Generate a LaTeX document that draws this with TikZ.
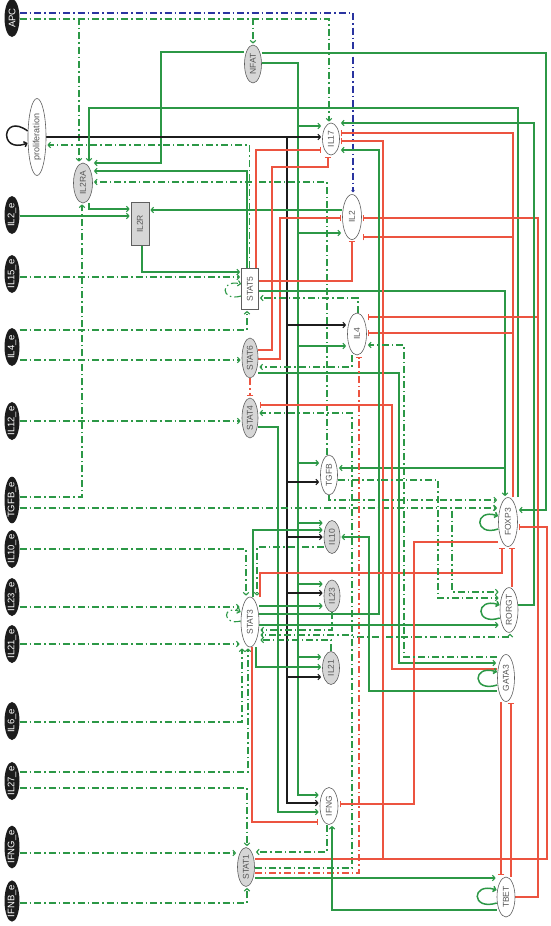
\documentclass[tikz,border=0pt]{standalone}
\usepackage{fontspec}
\setmainfont{Liberation Sans}
\usetikzlibrary{arrows.meta,shapes.geometric}
\definecolor{tg}{RGB}{44,152,70}
\definecolor{tr}{RGB}{236,84,64}
\definecolor{tb}{RGB}{42,52,160}
\definecolor{ng}{RGB}{214,214,214}
\definecolor{ne}{RGB}{95,95,95}
\definecolor{nt}{RGB}{85,85,85}
\definecolor{xb}{RGB}{28,28,28}
\pgfdeclarelayer{bg}
\pgfsetlayers{bg,main}
\tikzset{
  ext/.style={ellipse, fill=xb, text=white, minimum width=15pt, minimum height=38pt, inner sep=-1.5pt, font=\fontsize{9.5}{10}\selectfont},
  gnode/.style={ellipse, draw=ne, fill=ng, text=nt, line width=0.6pt, inner sep=0.5pt, font=\fontsize{8.5}{10}\selectfont},
  wnode/.style={gnode, fill=white},
  grect/.style={rectangle, draw=ne, fill=ng, text=nt, line width=0.6pt, inner sep=0.5pt, font=\fontsize{8.5}{10}\selectfont},
  wrect/.style={grect, fill=white},
  act/.style={draw=tg, line width=1.1pt, shorten >=1pt, -{Straight Barb[length=2.6pt,width=5.5pt]}},
  inh/.style={draw=tr, line width=1.1pt, shorten >=1.5pt, -{Bar[width=6.5pt,line width=1.1pt]}},
  ddash/.style={dash pattern=on 7pt off 3pt on 1.5pt off 3pt},
  dact/.style={act, ddash},
  dinh/.style={inh, ddash},
  bact/.style={draw=xb, line width=1.1pt, shorten >=1pt, -{Straight Barb[length=2.6pt,width=5.5pt]}},
  bdd/.style={draw=tb, line width=1.1pt, ddash, shorten >=2pt, -{Circle[length=3pt]}},
  loopg/.style={draw=tg, line width=1.5pt, -{Straight Barb[length=2.6pt,width=5.5pt]}},
}
\begin{document}
\begin{tikzpicture}[x=1pt,y=-1pt]
\path[use as bounding box] (0,0) rectangle (550,926);
% input nodes
\node[ext] (APC)    at (12,18)  {\rotatebox{90}{APC}};
\node[ext] (IL2e)   at (12,215) {\rotatebox{90}{IL2\_e}};
\node[ext] (IL15e)  at (12,274) {\rotatebox{90}{IL15\_e}};
\node[ext] (IL4e)   at (12,347) {\rotatebox{90}{IL4\_e}};
\node[ext] (IL12e)  at (12,421) {\rotatebox{90}{IL12\_e}};
\node[ext] (TGFBe)  at (12,500) {\rotatebox{90}{TGFB\_e}};
\node[ext] (IL10e)  at (12,549) {\rotatebox{90}{IL10\_e}};
\node[ext] (IL23e)  at (12,597) {\rotatebox{90}{IL23\_e}};
\node[ext] (IL21e)  at (12,644) {\rotatebox{90}{IL21\_e}};
\node[ext] (IL6e)   at (12,721) {\rotatebox{90}{IL6\_e}};
\node[ext] (IL27e)  at (12,781) {\rotatebox{90}{IL27\_e}};
\node[ext] (IFNGe)  at (12,847) {\rotatebox{90}{IFNG\_e}};
\node[ext] (IFNBe)  at (12,901) {\rotatebox{90}{IFNB\_e}};
% inner nodes
\node[wnode, minimum width=18pt, minimum height=77pt, font=\fontsize{9}{10}\selectfont] (prolif) at (37,137) {\rotatebox{90}{proliferation}};
\node[gnode, minimum width=17pt, minimum height=38pt] (NFAT) at (253,64) {\rotatebox{90}{NFAT}};
\node[gnode, minimum width=19pt, minimum height=40pt] (IL2RA) at (83,183) {\rotatebox{90}{IL2RA}};
\node[grect, minimum width=18pt, minimum height=43pt] (IL2R) at (140,224) {\rotatebox{90}{IL2R}};
\node[wrect, minimum width=17pt, minimum height=41pt] (STAT5) at (250,289) {\rotatebox{90}{STAT5}};
\node[gnode, minimum width=16pt, minimum height=40pt] (STAT6) at (250,358) {\rotatebox{90}{STAT6}};
\node[gnode, minimum width=16pt, minimum height=40pt] (STAT4) at (250,418) {\rotatebox{90}{STAT4}};
\node[wnode, minimum width=18pt, minimum height=50pt] (STAT3) at (250,622) {\rotatebox{90}{STAT3}};
\node[gnode, minimum width=17pt, minimum height=39pt] (STAT1) at (246,867) {\rotatebox{90}{STAT1}};
\node[wnode, minimum width=17pt, minimum height=32pt] (IL17) at (331,139) {\rotatebox{90}{IL17}};
\node[wnode, minimum width=19pt, minimum height=45pt] (IL2) at (352,217) {\rotatebox{90}{IL2}};
\node[wnode, minimum width=19pt, minimum height=42pt] (IL4) at (357,334) {\rotatebox{90}{IL4}};
\node[wnode, minimum width=17pt, minimum height=40pt] (TGFB) at (329,475) {\rotatebox{90}{TGFB}};
\node[gnode, minimum width=16pt, minimum height=33pt] (IL10) at (332,537) {\rotatebox{90}{IL10}};
\node[gnode, minimum width=16pt, minimum height=32pt] (IL23) at (332,596) {\rotatebox{90}{IL23}};
\node[gnode, minimum width=17pt, minimum height=33pt] (IL21) at (331,668) {\rotatebox{90}{IL21}};
\node[wnode, minimum width=18pt, minimum height=37pt] (IFNG) at (329,806) {\rotatebox{90}{IFNG}};
\node[wnode, minimum width=19pt, minimum height=49pt] (FOXP3) at (508,522) {\rotatebox{90}{FOXP3}};
\node[wnode, minimum width=18pt, minimum height=40pt] (RORGT) at (509,610) {\rotatebox{90}{RORGT}};
\node[wnode, minimum width=17pt, minimum height=47pt] (GATA3) at (506,678) {\rotatebox{90}{GATA3}};
\node[wnode, minimum width=18pt, minimum height=40pt] (TBET) at (506,897) {\rotatebox{90}{TBET}};
\coordinate (bk) at (287,137);
\begin{pgfonlayer}{bg}
\fill[white] (0,0) rectangle (550,926);
% APC
\draw[bdd] (APC.east |- 0,13) -| (IL2.north -| 353,0);
\draw[dact] (APC.east |- 0,19) -| (IL17.north -| 329,0);
\draw[dact] (APC.east |- 0,19) -| (IL2RA.north -| 79,0);
\draw[dact] (APC.east |- 0,19) -| (NFAT.north);
% NFAT
\draw[act] (NFAT.west |- 0,52) -| (161,163) -- (IL2RA.east |- 0,163);
\draw[act] (NFAT.east |- 0,53) -| (546,510) -- (FOXP3.east |- 0,510);
\draw[draw=tg, line width=2.2pt] (NFAT.east |- 0,63) -| (298,795);
\foreach \yy/\tt in {126/IL17,233/IL2,346/IL4,463/TGFB,523/IL10,584/IL23,657/IL21,795/IFNG}
  \draw[act] (NFAT.east |- 0,63) -| (298,\yy) -- (\tt.west |- 0,\yy);
% proliferation (black)
\draw[draw=xb, line width=2.8pt] (prolif.east |- 0,137) -- (bk);
\draw[draw=xb, line width=1.6pt] (prolif.east |- 0,137) -| (287,803);
\foreach \yy/\tt in {137/IL17,325/IL4,482/TGFB,537/IL10,593/IL23,677/IL21,803/IFNG}
  \draw[bact] (prolif.east |- 0,137) -| (287,\yy) -- (\tt.west |- 0,\yy);
\draw[draw=xb, line width=1.5pt, -{Straight Barb[length=2.6pt,width=5.5pt]}] (prolif.west |- 0,131) .. controls (2,112) and (-2,154) .. (prolif.west |- 0,143);
% IL2RA inputs
\draw[act] (FOXP3.north -| 518,0) -- (518,108) -| (IL2RA.north -| 89,0);
\draw[dact] (STAT5.north -| 249.5,0) |- (prolif.east |- 0,145);
\draw[act] (STAT5.north -| 247,0) |- (IL2RA.east |- 0,171);
\draw[dact] (TGFB.north -| 327,0) |- (IL2RA.east |- 0,182);
\draw[dact] (TGFBe.east |- 0,497) -| (IL2RA.south -| 82,0);
% IL2R
\draw[act] (IL2e.east |- 0,216) -- (IL2R.west |- 0,216);
\draw[act] (IL2RA.south -| 89,0) |- (IL2R.west |- 0,209);
\draw[act] (IL2.west |- 0,210) -- (IL2R.east |- 0,210);
\draw[act] (IL2R.south -| 142,0) |- (STAT5.west |- 0,272);
% external to STATs
\draw[dact] (IL15e.east |- 0,277) -- (STAT5.west |- 0,277);
\draw[dact] (IL4e.east |- 0,330) -| (STAT5.south -| 247,0);
\draw[dact] (IL4e.east |- 0,360) -- (STAT6.west |- 0,360);
\draw[dact] (IL12e.east |- 0,421) -- (STAT4.west |- 0,421);
\draw[dact, line width=1.6pt] (TGFBe.east |- 0,508) -- (FOXP3.west |- 0,508);
\draw[dact] (TGFBe.east |- 0,508) -| (452,592) -- (RORGT.west |- 0,592);
\draw[dact] (IL10e.east |- 0,549) -| (STAT3.north -| 246,0);
\draw[dact] (IL23e.east |- 0,607) -- (STAT3.west |- 0,607);
\draw[dact] (IL21e.east |- 0,644) -- (STAT3.west |- 0,644);
\draw[dact] (IL6e.east |- 0,722) -| (STAT3.south -| 242,0);
\draw[dact] (IL27e.east |- 0,772) -| (STAT3.south -| 248,0);
\draw[dact] (IL27e.east |- 0,788) -| (STAT1.north -| 247,0);
\draw[dact] (IFNGe.east |- 0,853) -- (STAT1.west |- 0,853);
\draw[dact] (IFNBe.east |- 0,903) -| (STAT1.south -| 247,0);
% STAT5 / STAT6 / STAT4
\draw[inh] (STAT5.north -| 256,0) |- (IL17.west |- 0,150);
\draw[inh] (STAT6.east |- 0,350) -| (272,167) -| (IL17.south -| 328,0);
\draw[inh] (STAT6.east |- 0,359) -| (280,218) -- (IL2.west |- 0,218);
\draw[inh] (STAT5.east |- 0,281) -| (IL2.south -| 352,0);
\draw[act] (STAT5.east |- 0,291) -| (FOXP3.north -| 505,0);
\draw[act] (STAT5.east |- 0,291) -| (505,468) -- (TGFB.east |- 0,468);
\draw[dact] (IL4.north -| 358,0) |- (STAT5.east |- 0,298);
\draw[dact] (IL4.south -| 352,0) |- (STAT6.east |- 0,367);
\draw[act] (STAT6.east |- 0,373) -| (399,663) -- (GATA3.west |- 0,663);
\draw[dinh] (STAT6.south) -- (STAT4.north);
\draw[inh] (GATA3.west |- 0,669) -| (392,405) -- (STAT4.east |- 0,405);
\draw[dact] (STAT1.east |- 0,868) -| (352,413) -- (STAT4.east |- 0,413);
\draw[dact] (STAT1.east |- 0,868) -| (352,635) -- (STAT3.east |- 0,635);
\draw[dact] (STAT1.east |- 0,868) -| (352,637) -| (RORGT.south -| 510,0);
\draw[dinh] (STAT1.east |- 0,873) -| (IL4.south -| 359,0);
\draw[act] (STAT4.east |- 0,427) -| (278,812) -- (IFNG.west |- 0,812);
\draw[loopg, ddash, line width=1.1pt] (STAT5.west |- 0,296) .. controls (220,302) and (220,279) .. (STAT5.west |- 0,284);
% FOXP3 / TBET inhibitions of cytokines
\draw[inh] (FOXP3.north -| 513,0) |- (IL17.east |- 0,133);
\draw[inh] (FOXP3.north -| 513,0) |- (IL2.east |- 0,237);
\draw[inh] (FOXP3.north -| 513,0) |- (IL4.east |- 0,333);
\draw[inh] (TBET.east |- 0,897) -| (538,218) -- (IL2.east |- 0,218);
\draw[inh] (TBET.east |- 0,897) -| (538,317) -- (IL4.east |- 0,317);
\draw[act] (RORGT.east |- 0,605) -| (534,123) -- (IL17.east |- 0,123);
\draw[inh] (STAT1.east |- 0,859) -| (383,141) -- (IL17.east |- 0,141);
\draw[inh] (STAT1.east |- 0,859) -| (547,527) -- (FOXP3.east |- 0,527);
% STAT3
\draw[act] (STAT3.east |- 0,614) -| (379,150) -- (IL17.east |- 0,150);
\draw[act] (STAT3.north -| 253,0) |- (IL10.west |- 0,530);
\draw[dact] (IL10.west |- 0,547) -| (STAT3.north -| 257,0);
\draw[inh] (STAT3.north -| 260,0) |- (502,573) -- (FOXP3.south -| 502,0);
\draw[act] (STAT3.east |- 0,606) -- (IL23.west |- 0,606);
\draw[act] (STAT3.east |- 0,625) -- (RORGT.west |- 0,625);
\draw[dact] (IL23.south) |- (STAT3.east |- 0,630);
\draw[dact] (IL21.north) |- (STAT3.east |- 0,640);
\draw[act] (STAT3.south -| 256,0) |- (IL21.west |- 0,667);
\draw[inh] (STAT3.south -| 252,0) |- (IFNG.west |- 0,822);
\draw[loopg, ddash, line width=1.1pt] (STAT3.west |- 0,621) .. controls (222,626) and (222,604) .. (STAT3.west |- 0,612);
% TGFB
\draw[dact] (TGFB.south) |- (FOXP3.west |- 0,500);
\draw[dact] (TGFB.east |- 0,480) -| (438,598) -- (RORGT.west |- 0,598);
% transcription factors
\draw[inh] (RORGT.north -| 512,0) -- (FOXP3.south -| 512,0);
\draw[inh] (FOXP3.west |- 0,542) -| (414,804) -- (IFNG.east |- 0,804);
\draw[dact] (GATA3.west |- 0,657) -| (404,345) -- (IL4.east |- 0,345);
\draw[act] (GATA3.west |- 0,691) -| (369,537) -- (IL10.east |- 0,537);
\draw[inh] (GATA3.south -| 501,0) -- (TBET.north -| 501,0);
\draw[inh] (TBET.north -| 511,0) -- (GATA3.south -| 511,0);
\draw[act] (STAT1.east |- 0,878) -- (TBET.west |- 0,878);
\draw[act] (TBET.west |- 0,910) -| (IFNG.south -| 332,0);
\draw[dact] (IFNG.south -| 327,0) |- (STAT1.east |- 0,852);
% self loops
\draw[loopg] (FOXP3.west |- 0,529) .. controls (474,537) and (474,508) .. (FOXP3.west |- 0,516);
\draw[loopg] (RORGT.west |- 0,618) .. controls (475,626) and (475,597) .. (RORGT.west |- 0,605);
\draw[loopg] (GATA3.west |- 0,685) .. controls (472,693) and (472,664) .. (GATA3.west |- 0,672);
\draw[loopg] (TBET.west |- 0,903) .. controls (471,911) and (471,882) .. (TBET.west |- 0,890);
\end{pgfonlayer}
\end{tikzpicture}
\end{document}
